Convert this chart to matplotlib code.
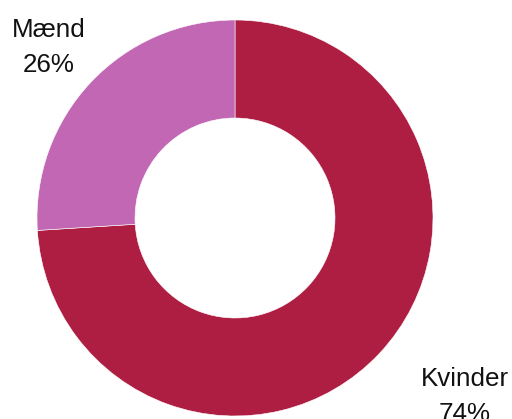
import matplotlib
matplotlib.use("Agg")
import matplotlib.pyplot as plt

categories = ["Kvinder", "Mænd"]
values = [74, 26]
colors = ["#AE1E42", "#C267B4"]

plt.rcParams['font.family'] = ['Liberation Sans', 'DejaVu Sans']

fig = plt.figure(figsize=(5.12, 4.19), dpi=100)
ax = fig.add_axes([0, 0, 1, 1])
ax.set_xlim(0, 512)
ax.set_ylim(0, 419)
ax.set_aspect('equal')
ax.axis('off')

cx, cy = 235, 419 - 218
R = 198
ax.pie(values, colors=colors, startangle=90, counterclock=False,
       center=(cx, cy), radius=R,
       wedgeprops=dict(width=R - 100, edgecolor='white', linewidth=0.4))
ax.set_xlim(0, 512)
ax.set_ylim(0, 419)

# baseline of last line, in pixel coords (y up)
label_pos = {"Kvinder": (464.5, 419 - 421), "Mænd": (49, 419 - 72)}
for c, v in zip(categories, values):
    x, y = label_pos[c]
    ax.text(x, y, f"{c}\n{v}%", ha='center', va='baseline', fontsize=18.7,
            linespacing=1.58, color='#111111', multialignment='center')

fig.savefig("out.png", dpi=100)
